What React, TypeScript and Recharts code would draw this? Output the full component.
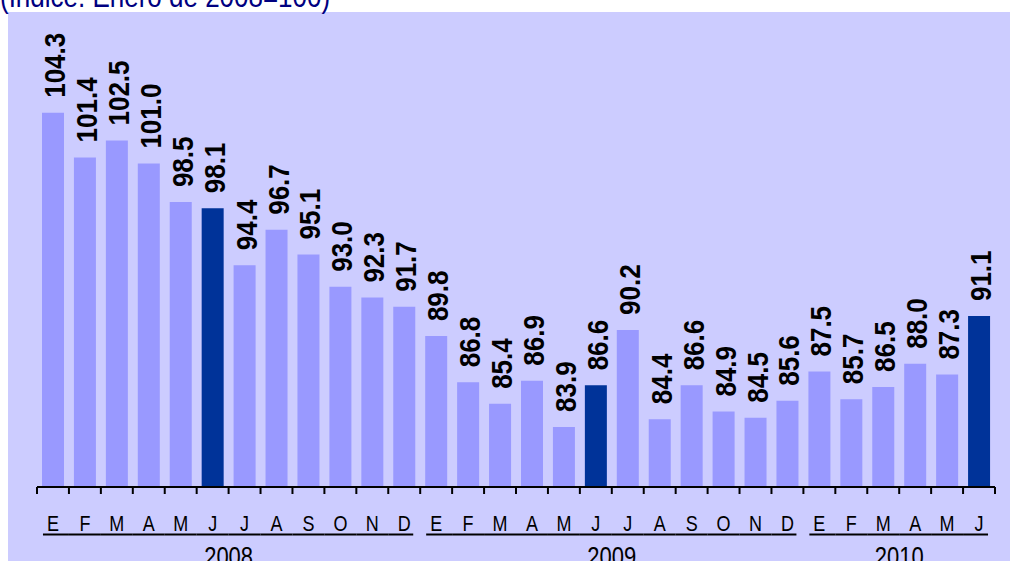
import React from "react";
import { BarChart, Bar, XAxis, YAxis, Cell, LabelList } from "recharts";

const months = ["E","F","M","A","M","J","J","A","S","O","N","D","E","F","M","A","M","J","J","A","S","O","N","D","E","F","M","A","M","J"];
const years = ["2008","2008","2008","2008","2008","2008","2008","2008","2008","2008","2008","2008","2009","2009","2009","2009","2009","2009","2009","2009","2009","2009","2009","2009","2010","2010","2010","2010","2010","2010"];
const values = [104.3,101.4,102.5,101.0,98.5,98.1,94.4,96.7,95.1,93.0,92.3,91.7,89.8,86.8,85.4,86.9,83.9,86.6,90.2,84.4,86.6,84.9,84.5,85.6,87.5,85.7,86.5,88.0,87.3,91.1];
const highlighted = [5, 17, 29];
const yearList = ["2008", "2009", "2010"];
const title = "(Índice: Enero de 2008=100)";

const data = values.map((v, i) => ({ key: `${years[i]}-${i}`, month: months[i], year: years[i], value: v }));

const W = 1010;
const H = 561;
const M = { top: 25, right: 15, bottom: 0, left: 37 };
const XH = 74;
const PLOT_W = W - M.left - M.right;
const PLOT_BOTTOM = H - M.bottom - XH;
const BAND = PLOT_W / data.length;

const FONT = "Arial, 'Liberation Sans', sans-serif";
const LIGHT = "#9999FF";
const DARK = "#003399";
const BG = "#CCCCFF";

const yearInfo = yearList.map((y) => {
  const start = years.indexOf(y);
  const end = years.lastIndexOf(y);
  return { y, start, end };
});

const MonthTick = (props: any) => {
  const { x, payload } = props;
  const i: number = payload.index;
  const yr = yearInfo.find((g) => i >= g.start && i <= g.end)!;
  const isFirst = i === yr.start;
  const isLast = i === yr.end;
  const ulStart = isFirst ? x - 10 : x - BAND / 2;
  const ulEnd = isLast ? x + 9 : x + BAND / 2;
  const midPos = yr.start + (yr.end - yr.start) / 2;
  const showYear = i === Math.floor(midPos);
  const yearX = x + (midPos - Math.floor(midPos)) * BAND;
  const tickTop = PLOT_BOTTOM;
  return (
    <g>
      <line x1={x - BAND / 2} x2={x - BAND / 2} y1={tickTop} y2={tickTop + 7} stroke="#000" strokeWidth={2} />
      {i === data.length - 1 && (
        <line x1={x + BAND / 2} x2={x + BAND / 2} y1={tickTop} y2={tickTop + 7} stroke="#000" strokeWidth={2} />
      )}
      <g transform={`translate(${x},${PLOT_BOTTOM + 44}) scale(1,1.22)`}>
        <text x={0} y={0} textAnchor="middle" fontFamily={FONT} fontSize={18} fill="#000">
          {months[i]}
        </text>
      </g>
      <line x1={ulStart} x2={ulEnd} y1={PLOT_BOTTOM + 47.5} y2={PLOT_BOTTOM + 47.5} stroke="#000" strokeWidth={2} />
      {showYear && (
        <g transform={`translate(${yearX},${PLOT_BOTTOM + 79}) scale(1,1.22)`}>
          <text x={0} y={0} textAnchor="middle" fontFamily={FONT} fontSize={22} fill="#000">
            {yr.y}
          </text>
        </g>
      )}
    </g>
  );
};

const ValueLabel = (props: any) => {
  const { x, y, width, value } = props;
  const cx = Number(x) + Number(width) / 2;
  return (
    <g transform={`translate(${cx + 12},${Number(y) - 15}) rotate(-90) scale(1,1.15)`}>
      <text x={0} y={0} textAnchor="start" fontFamily={FONT} fontSize={26} fontWeight="bold" fill="#000">
        {Number(value).toFixed(1)}
      </text>
    </g>
  );
};

export default function App() {
  return (
    <div style={{ position: "absolute", left: 0, top: 0, width: W, height: H, overflow: "hidden", background: "#fff" }}>
      <div style={{ position: "absolute", left: 8, top: 12, width: W - 8, height: H - 12, background: BG }} />
      <svg width={W} height={14} style={{ position: "absolute", left: 0, top: 0, overflow: "visible" }}>
        <g transform="translate(0,7) scale(1,1.2)">
          <text x={0} y={0} fontFamily={FONT} fontSize={26} fill="#000080">
            {title}
          </text>
        </g>
      </svg>
      <div style={{ position: "absolute", left: 0, top: 0 }}>
        <BarChart width={W} height={H} data={data} margin={M} barSize={22}>
          <XAxis
            dataKey="key"
            height={XH}
            interval={0}
            tickLine={false}
            axisLine={{ stroke: "#000", strokeWidth: 2 }}
            tick={<MonthTick />}
          />
          <YAxis hide domain={[80, 110]} allowDataOverflow />
          <Bar dataKey="value" isAnimationActive={false}>
            {data.map((d, i) => (
              <Cell key={d.key} fill={highlighted.includes(i) ? DARK : LIGHT} />
            ))}
            <LabelList dataKey="value" content={<ValueLabel />} />
          </Bar>
        </BarChart>
      </div>
    </div>
  );
}
